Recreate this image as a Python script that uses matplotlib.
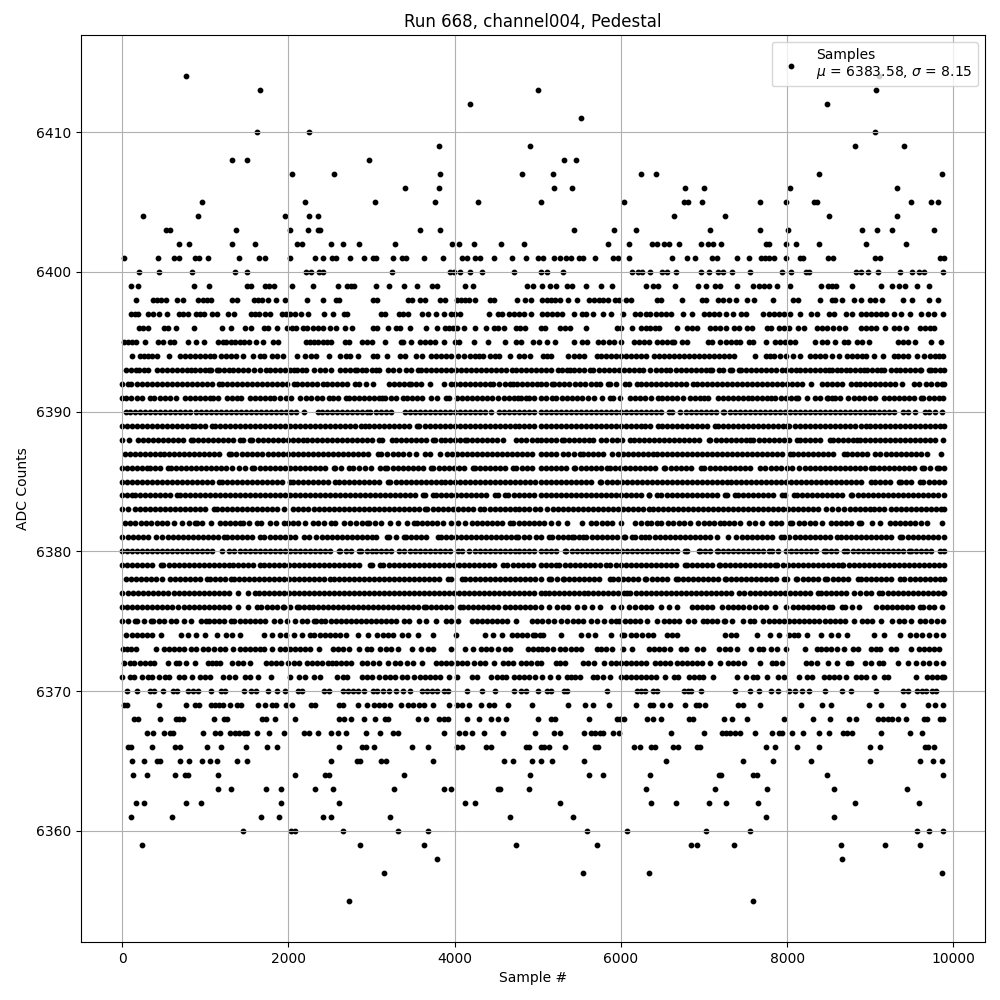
import matplotlib
matplotlib.use('Agg')
import matplotlib.pyplot as plt

# Sample numbers per ADC level (estimates)
adc_6414 = [771, 9104]
adc_6413 = [1663, 5000, 9068]
adc_6412 = [4181, 8478]
adc_6411 = [5514]
adc_6410 = [1626, 2253, 9056]
adc_6409 = [3807, 4904, 8815, 9406]
adc_6408 = [1325, 1506, 2964, 5321, 5454]
adc_6407 = [2048, 2554, 3819, 4807, 5189, 6237, 6418, 8381, 9863]
adc_6406 = [3398, 3807, 5201, 5406, 6767, 6996, 8032, 9321]
adc_6405 = [964, 2205, 3048, 3759, 4277, 5036, 6032, 6755, 6803, 6972, 7671, 7984, 8321, 8357, 9490, 9731, 9815]
adc_6404 = [253, 916, 1964, 2253, 2361, 6635, 7249, 8502, 9321]
adc_6403 = [530, 578, 1373, 2024, 2241, 2361, 2385, 3578, 3819, 5430, 5912, 6177, 7068, 7671, 8008, 8900, 9080, 9261, 9767]
adc_6402 = [687, 807, 1325, 1602, 2108, 2169, 2518, 2663, 2855, 3277, 3964, 4048, 4229, 4554, 4831, 5839, 6092, 6369, 6430, 6514, 6574, 6695, 6960, 7044, 7104, 7201, 7743, 7779, 7984, 8104, 8381, 8948, 9430]
adc_6401 = [24, 434, 626, 687, 880, 928, 1036, 1410, 1651, 1723, 2024, 2325, 2422, 2530, 2578, 2747, 2904, 3012, 3060, 3253, 3361, 3410, 3626, 3855, 4084, 4144, 4241, 4301, 4470, 4687, 4855, 5000, 5068, 5201, 5273, 5345, 5394, 5490, 5538, 5691, 5900, 5960, 6092, 6610, 6791, 6888, 7092, 7153, 7394, 7538, 7683, 7731, 7779, 7839, 7984, 8153, 8189, 8490, 8550, 9056, 9116, 9839, 9885]
adc_6400 = [205, 446, 843, 1361, 1506, 2217, 2277, 2373, 2422, 3241, 3940, 3988, 4060, 4181, 4325, 4711, 5036, 5116, 5309, 6129, 6201, 6249, 6345, 6490, 6550, 6659, 6960, 7056, 7165, 7225, 7333, 7550, 7936, 8044, 8225, 8261, 8827, 8888, 8972, 9092, 9357, 9502, 9586, 9647, 9875]
adc_6399 = [108, 193, 867, 1048, 1506, 1554, 1723, 1771, 1831, 2048, 2301, 2602, 2711, 2759, 2795, 3060, 3205, 3385, 3550, 3723, 3783, 4120, 4217, 4867, 4940, 5048, 5141, 5225, 5357, 5406, 5586, 5755, 5888, 6297, 6382, 6442, 6647, 6924, 7020, 7128, 7189, 7394, 7586, 7659, 7719, 7779, 7875, 8032, 8406, 8490, 8538, 8586, 8779, 9128, 9261, 9345, 9418, 9562, 9707]
adc_6398 = [169, 373, 422, 470, 530, 663, 735, 916, 976, 1024, 1072, 1325, 1386, 1590, 1639, 1687, 1759, 1855, 1964, 2229, 2422, 2578, 2614, 3012, 3072, 3434, 3482, 3578, 3638, 3819, 3880, 4024, 4072, 4120, 4169, 4241, 4422, 4470, 4747, 4843, 4916, 5056, 5116, 5165, 5213, 5273, 5369, 5466, 5622, 5671, 5731, 5779, 5839, 5924, 5972, 6056, 6116, 6430, 6478, 6731, 6972, 7020, 7165, 7225, 7297, 7382, 7514, 7598, 7827, 8068, 8128, 8394, 8538, 8574, 8655, 8803, 8888, 8996, 9056, 9140, 9394, 9502, 9707, 9815]
adc_6397 = [108, 157, 193, 313, 373, 446, 542, 687, 735, 795, 892, 940, 988, 1084, 1145, 1277, 1349, 1554, 1602, 1651, 1723, 1783, 1928, 1976, 2024, 2084, 2157, 2241, 2434, 2542, 2675, 2711, 3120, 3157, 3325, 3373, 3434, 3602, 3675, 3771, 3867, 3952, 4000, 4060, 4410, 4518, 4566, 4651, 4711, 4771, 4831, 4916, 5056, 5116, 5177, 5237, 5297, 5430, 5526, 5574, 5659, 5779, 5876, 6020, 6165, 6225, 6297, 6345, 6418, 6478, 6538, 6598, 6743, 6851, 6996, 7056, 7116, 7177, 7261, 7345, 7442, 7502, 7707, 7779, 7839, 7900, 7960, 8032, 8153, 8285, 8357, 8502, 8562, 8707, 8779, 8888, 8948, 9008, 9068, 9128, 9189, 9285, 9369, 9478, 9610, 9695, 9767, 9875]
adc_6396 = [205, 253, 313, 506, 554, 651, 867, 1205, 1313, 1482, 1554, 1711, 1759, 1867, 1988, 2048, 2096, 2181, 2229, 2301, 2361, 2422, 2506, 2578, 2687, 2771, 3024, 3072, 3193, 3289, 3337, 3458, 3651, 3783, 3880, 3928, 3976, 4024, 4108, 4241, 4373, 4470, 4518, 4590, 4735, 4783, 4843, 5036, 5092, 5273, 5333, 5382, 5574, 5948, 5996, 6129, 6237, 6297, 6345, 6406, 6454, 6671, 6791, 6851, 6912, 7068, 7128, 7189, 7261, 7357, 7418, 7514, 7574, 7755, 7803, 7900, 7960, 8020, 8128, 8201, 8357, 8418, 8478, 8550, 8622, 8695, 8888, 8948, 9008, 9068, 9177, 9285, 9345, 9430, 9598, 9659, 9719, 9767]
adc_6395 = [24, 72, 120, 169, 277, 434, 494, 578, 626, 795, 892, 988, 1157, 1217, 1253, 1313, 1361, 1422, 1470, 1530, 1614, 1699, 1819, 1880, 2217, 2265, 2313, 2361, 2422, 2470, 2518, 2687, 2735, 2880, 2940, 3000, 3157, 3349, 3373, 3470, 3578, 3638, 3699, 3759, 3867, 4000, 4048, 4229, 4398, 4602, 4735, 4795, 4940, 5012, 5116, 5213, 5430, 5526, 5598, 5719, 5779, 5851, 5912, 5996, 6153, 6213, 6273, 6333, 6430, 6490, 6550, 6610, 6635, 6731, 6791, 7044, 7092, 7189, 7261, 7321, 7382, 7430, 7538, 7586, 7743, 7851, 7912, 7972, 8032, 8092, 8333, 8418, 8478, 8574, 8683, 8731, 8839, 8900, 8984, 9333, 9394, 9454, 9538, 9731, 9851]
adc_6394 = [120, 217, 265, 313, 361, 422, 566, 699, 759, 819, 880, 940, 1000, 1060, 1108, 1193, 1253, 1313, 1373, 1458, 1578, 1663, 1711, 1807, 1867, 1940, 2108, 2205, 2277, 2337, 2494, 2627, 2699, 2747, 2843, 3012, 3072, 3181, 3337, 3398, 3530, 3602, 3711, 3771, 3831, 3892, 3952, 4036, 4108, 4181, 4241, 4289, 4337, 4422, 4482, 4530, 4663, 4771, 4831, 4904, 5068, 5116, 5165, 5369, 5430, 5490, 5550, 5707, 5755, 5815, 5876, 5936, 5996, 6056, 6116, 6177, 6237, 6297, 6394, 6454, 6514, 6574, 6635, 6695, 6755, 6815, 6875, 6936, 6996, 7056, 7116, 7177, 7237, 7297, 7357, 7610, 7743, 7791, 7839, 7912, 7984, 8068, 8153, 8273, 8333, 8394, 8454, 8538, 8622, 8719, 8779, 8839, 8900, 8948, 9044, 9153, 9285, 9333, 9394, 9454, 9562, 9647, 9719, 9779, 9827, 9880]
adc_6393 = [44, 104, 164, 204, 260, 316, 416, 480, 540, 600, 660, 720, 780, 824, 880, 940, 1000, 1044, 1072, 1136, 1164, 1220, 1280, 1340, 1400, 1460, 1512, 1592, 1664, 1732, 1776, 1840, 1900, 1960, 2020, 2064, 2104, 2160, 2208, 2312, 2380, 2440, 2512, 2624, 2680, 2740, 2800, 2824, 2884, 2936, 3000, 3060, 3088, 3200, 3260, 3330, 3420, 3480, 3560, 3600, 3660, 3720, 3780, 3840, 3900, 3960, 4020, 4080, 4140, 4200, 4260, 4320, 4380, 4440, 4500, 4560, 4620, 4690, 4740, 4800, 4860, 4920, 4980, 5040, 5100, 5160, 5249, 5289, 5357, 5382, 5440, 5500, 5560, 5631, 5663, 5731, 5799, 5860, 5920, 5980, 6040, 6100, 6160, 6220, 6265, 6353, 6420, 6480, 6546, 6594, 6660, 6720, 6780, 6840, 6900, 6960, 7020, 7068, 7096, 7177, 7229, 7317, 7337, 7418, 7446, 7500, 7560, 7620, 7680, 7740, 7800, 7860, 7940, 7980, 8040, 8100, 8160, 8220, 8280, 8340, 8400, 8460, 8502, 8534, 8600, 8650, 8703, 8760, 8820, 8880, 8924, 8956, 9020, 9080, 9132, 9165, 9253, 9305, 9360, 9420, 9480, 9540, 9598, 9614, 9707, 9727, 9780, 9840, 9884]
adc_6392 = [0, 70, 104, 180, 240, 300, 360, 420, 480, 540, 600, 660, 720, 780, 840, 900, 960, 1020, 1080, 1165, 1197, 1260, 1320, 1380, 1440, 1500, 1560, 1620, 1680, 1740, 1800, 1860, 1920, 1980, 2066, 2100, 2160, 2220, 2280, 2340, 2420, 2470, 2530, 2590, 2650, 2700, 2800, 2850, 2930, 3020, 3210, 3270, 3330, 3390, 3450, 3480, 3540, 3600, 3700, 3870, 3960, 4010, 4070, 4130, 4190, 4240, 4300, 4360, 4430, 4460, 4530, 4600, 4660, 4700, 4750, 4810, 4870, 4930, 4990, 5040, 5100, 5170, 5197, 5260, 5320, 5380, 5442, 5510, 5570, 5640, 5703, 5743, 5839, 5871, 5940, 6052, 6092, 6193, 6245, 6300, 6360, 6420, 6480, 6540, 6600, 6660, 6720, 6780, 6863, 6916, 6980, 7040, 7100, 7160, 7220, 7280, 7340, 7400, 7460, 7520, 7580, 7640, 7700, 7760, 7820, 7880, 7940, 8000, 8060, 8120, 8180, 8289, 8422, 8480, 8540, 8600, 8660, 8763, 8823, 8880, 8940, 9000, 9060, 9120, 9180, 9240, 9300, 9385, 9526, 9586, 9667, 9730, 9807, 9860, 9885]
adc_6391 = [0, 50, 112, 176, 240, 332, 384, 450, 520, 580, 644, 752, 820, 880, 940, 1000, 1056, 1088, 1156, 1264, 1320, 1380, 1436, 1544, 1600, 1660, 1720, 1780, 1832, 1904, 1970, 2032, 2144, 2212, 2276, 2340, 2400, 2484, 2532, 2600, 2696, 2728, 2790, 2850, 2910, 2970, 3030, 3090, 3124, 3164, 3230, 3300, 3384, 3424, 3490, 3550, 3610, 3716, 3792, 3896, 3936, 4024, 4084, 4150, 4210, 4270, 4330, 4390, 4444, 4524, 4590, 4650, 4710, 4764, 4804, 4864, 4896, 4960, 5040, 5100, 5169, 5221, 5290, 5350, 5410, 5470, 5530, 5600, 5671, 5771, 5867, 5908, 5984, 6112, 6173, 6225, 6290, 6362, 6442, 6500, 6560, 6620, 6680, 6747, 6827, 6890, 6956, 6996, 7048, 7165, 7230, 7290, 7350, 7410, 7470, 7526, 7578, 7640, 7700, 7760, 7807, 7851, 7920, 7980, 8040, 8100, 8133, 8241, 8333, 8400, 8474, 8494, 8542, 8574, 8640, 8735, 8803, 8860, 8920, 8990, 9052, 9165, 9230, 9290, 9350, 9410, 9470, 9530, 9607, 9639, 9700, 9760, 9820, 9880]
adc_6390 = [44, 100, 160, 220, 280, 340, 400, 460, 520, 580, 640, 700, 760, 820, 884, 952, 1010, 1070, 1130, 1190, 1250, 1310, 1370, 1430, 1490, 1550, 1610, 1670, 1730, 1790, 1850, 1910, 1970, 2030, 2090, 2184, 2352, 2410, 2470, 2530, 2590, 2650, 2710, 2770, 2830, 2890, 2944, 2984, 3050, 3110, 3170, 3236, 3404, 3460, 3520, 3580, 3640, 3700, 3760, 3820, 3880, 3940, 4000, 4060, 4120, 4180, 4240, 4300, 4360, 4440, 4528, 4590, 4650, 4710, 4770, 4830, 4890, 4950, 5040, 5100, 5160, 5220, 5280, 5340, 5400, 5460, 5520, 5580, 5640, 5700, 5760, 5820, 5880, 5940, 6000, 6060, 6120, 6180, 6240, 6300, 6360, 6420, 6480, 6575, 6614, 6715, 6780, 6840, 6900, 6960, 7020, 7080, 7140, 7225, 7245, 7310, 7370, 7430, 7490, 7550, 7610, 7670, 7730, 7790, 7850, 7910, 7970, 8030, 8090, 8150, 8210, 8270, 8330, 8390, 8450, 8510, 8570, 8630, 8690, 8750, 8810, 8870, 8930, 8990, 9050, 9110, 9170, 9230, 9290, 9398, 9458, 9534, 9655, 9707, 9779, 9867]
adc_6389 = [4, 60, 120, 180, 240, 300, 360, 420, 480, 540, 600, 660, 720, 780, 836, 872, 940, 1000, 1084, 1112, 1180, 1240, 1300, 1360, 1420, 1480, 1540, 1600, 1660, 1720, 1780, 1840, 1900, 1960, 2020, 2080, 2140, 2200, 2260, 2320, 2380, 2440, 2500, 2560, 2620, 2680, 2740, 2800, 2870, 2924, 2964, 3030, 3090, 3150, 3210, 3270, 3330, 3390, 3450, 3544, 3576, 3640, 3700, 3760, 3820, 3880, 3940, 4000, 4060, 4120, 4180, 4240, 4300, 4360, 4420, 4480, 4540, 4600, 4660, 4720, 4780, 4840, 4900, 4960, 5040, 5100, 5160, 5220, 5280, 5340, 5400, 5460, 5520, 5580, 5640, 5700, 5760, 5820, 5880, 5940, 6000, 6060, 6120, 6180, 6240, 6293, 6345, 6442, 6500, 6560, 6620, 6680, 6740, 6800, 6860, 6920, 6980, 7040, 7136, 7169, 7230, 7290, 7350, 7410, 7470, 7530, 7590, 7650, 7710, 7770, 7830, 7890, 7950, 8000, 8024, 8090, 8150, 8210, 8270, 8330, 8390, 8450, 8510, 8570, 8630, 8690, 8750, 8810, 8883, 8944, 9000, 9060, 9120, 9180, 9240, 9300, 9360, 9420, 9480, 9540, 9600, 9660, 9720, 9780, 9840, 9884]
adc_6388 = [0, 84, 192, 250, 310, 370, 430, 490, 550, 610, 670, 730, 824, 848, 910, 970, 1030, 1090, 1150, 1210, 1270, 1330, 1416, 1456, 1544, 1564, 1630, 1690, 1750, 1810, 1870, 1930, 1990, 2050, 2110, 2170, 2230, 2290, 2350, 2410, 2470, 2530, 2590, 2650, 2710, 2770, 2830, 2890, 2950, 3010, 3096, 3124, 3244, 3296, 3360, 3420, 3480, 3540, 3600, 3660, 3744, 3764, 3830, 3890, 3950, 4010, 4070, 4124, 4152, 4204, 4270, 4330, 4390, 4450, 4510, 4584, 4736, 4800, 4864, 4936, 5040, 4996, 5100, 5160, 5220, 5289, 5317, 5380, 5440, 5500, 5560, 5620, 5663, 5755, 5823, 5890, 5950, 6010, 6112, 6153, 6220, 6280, 6340, 6400, 6460, 6520, 6580, 6640, 6700, 6760, 6820, 6880, 6940, 7056, 7076, 7140, 7200, 7260, 7320, 7380, 7440, 7500, 7558, 7590, 7660, 7719, 7779, 7840, 7900, 7960, 8020, 8120, 8153, 8220, 8280, 8340, 8400, 8510, 8550, 8610, 8670, 8730, 8790, 8843, 8875, 8940, 9000, 9060, 9120, 9180, 9240, 9300, 9360, 9420, 9480, 9540, 9600, 9660, 9720, 9780, 9880]
adc_6387 = [32, 90, 150, 210, 270, 330, 390, 450, 510, 570, 630, 690, 750, 810, 870, 930, 990, 1050, 1110, 1170, 1284, 1312, 1376, 1440, 1500, 1560, 1620, 1680, 1752, 1816, 1880, 1940, 2000, 2060, 2120, 2180, 2240, 2300, 2360, 2420, 2480, 2540, 2600, 2660, 2720, 2780, 2840, 2900, 2960, 3084, 3112, 3192, 3260, 3320, 3380, 3456, 3536, 3644, 3704, 3824, 3912, 3970, 4030, 4090, 4150, 4210, 4270, 4330, 4390, 4450, 4510, 4570, 4630, 4690, 4750, 4810, 4870, 4930, 5040, 5100, 5160, 5220, 5309, 5369, 5430, 5510, 5538, 5600, 5660, 5720, 5780, 5892, 5960, 6020, 6080, 6140, 6200, 6260, 6320, 6380, 6440, 6500, 6560, 6620, 6680, 6740, 6800, 6860, 6920, 6980, 7040, 7100, 7160, 7220, 7280, 7340, 7400, 7460, 7520, 7580, 7640, 7700, 7760, 7820, 7880, 7940, 8028, 8064, 8130, 8190, 8250, 8310, 8370, 8430, 8490, 8550, 8683, 8715, 8780, 8840, 8900, 8960, 9052, 9112, 9185, 9250, 9310, 9370, 9430, 9490, 9550, 9610, 9679, 9847]
adc_6386 = [0, 60, 120, 180, 240, 304, 336, 400, 460, 552, 584, 650, 710, 770, 830, 890, 950, 1010, 1070, 1130, 1190, 1250, 1324, 1404, 1480, 1564, 1592, 1660, 1720, 1780, 1840, 1900, 1960, 2020, 2080, 2140, 2200, 2260, 2320, 2380, 2440, 2544, 2564, 2630, 2724, 2776, 2844, 2920, 2996, 3104, 3164, 3192, 3260, 3320, 3380, 3440, 3500, 3560, 3620, 3712, 3744, 3810, 3870, 3930, 3990, 4050, 4110, 4224, 4244, 4310, 4370, 4430, 4490, 4550, 4610, 4704, 4744, 4810, 4870, 4930, 5040, 5100, 5160, 5220, 5280, 5340, 5438, 5450, 5520, 5580, 5640, 5700, 5760, 5831, 5863, 5930, 5990, 6050, 6110, 6170, 6230, 6290, 6350, 6410, 6514, 6534, 6600, 6660, 6720, 6780, 6840, 6968, 7004, 7070, 7130, 7190, 7250, 7310, 7370, 7430, 7490, 7550, 7671, 7739, 7800, 7860, 7920, 7992, 8052, 8148, 8210, 8270, 8330, 8390, 8450, 8510, 8570, 8630, 8690, 8750, 8810, 8870, 8930, 9004, 9044, 9104, 9170, 9230, 9290, 9350, 9410, 9470, 9530, 9626, 9647, 9720, 9807, 9827, 9885]
adc_6385 = [0, 60, 120, 180, 240, 300, 360, 420, 480, 540, 600, 660, 720, 780, 840, 900, 960, 1020, 1080, 1164, 1196, 1260, 1320, 1380, 1440, 1500, 1560, 1620, 1680, 1740, 1800, 1860, 1920, 2024, 2056, 2120, 2180, 2240, 2300, 2360, 2420, 2480, 2564, 2604, 2670, 2730, 2790, 2850, 2910, 2970, 3030, 3090, 3204, 3224, 3290, 3350, 3410, 3470, 3530, 3590, 3650, 3710, 3770, 3830, 3890, 3950, 4010, 4070, 4130, 4190, 4250, 4310, 4370, 4430, 4490, 4550, 4610, 4670, 4730, 4790, 4850, 4910, 4970, 5040, 5100, 5160, 5220, 5280, 5340, 5400, 5460, 5520, 5580, 5640, 5750, 5763, 5830, 5890, 5950, 6010, 6070, 6130, 6190, 6250, 6310, 6370, 6430, 6490, 6550, 6610, 6670, 6730, 6790, 6850, 6910, 6970, 7030, 7090, 7150, 7210, 7270, 7330, 7390, 7450, 7510, 7570, 7630, 7690, 7750, 7810, 7870, 7930, 7990, 8050, 8110, 8170, 8230, 8290, 8350, 8410, 8470, 8530, 8590, 8650, 8710, 8770, 8830, 8890, 9012, 9052, 9120, 9180, 9240, 9345, 9365, 9430, 9490, 9598, 9639, 9700, 9760, 9820, 9885]
adc_6384 = [0, 60, 124, 152, 220, 280, 340, 400, 460, 520, 580, 664, 696, 760, 820, 880, 940, 1000, 1060, 1120, 1180, 1240, 1300, 1360, 1420, 1480, 1540, 1600, 1660, 1720, 1780, 1840, 1900, 1960, 2020, 2080, 2140, 2200, 2260, 2320, 2380, 2440, 2500, 2560, 2620, 2680, 2740, 2800, 2860, 2920, 2980, 3040, 3100, 3160, 3220, 3280, 3340, 3400, 3460, 3520, 3624, 3644, 3744, 3776, 3840, 3900, 3960, 4020, 4080, 4140, 4200, 4260, 4320, 4380, 4484, 4524, 4604, 4644, 4710, 4770, 4830, 4890, 4950, 5040, 5100, 5160, 5220, 5280, 5340, 5400, 5460, 5520, 5580, 5640, 5700, 5760, 5820, 5880, 5940, 6000, 6060, 6120, 6180, 6240, 6333, 6341, 6434, 6486, 6550, 6610, 6670, 6730, 6790, 6850, 6910, 6970, 7030, 7090, 7150, 7257, 7277, 7378, 7406, 7470, 7530, 7590, 7650, 7710, 7770, 7830, 7940, 7968, 8080, 8112, 8180, 8240, 8300, 8360, 8420, 8480, 8540, 8600, 8660, 8763, 8783, 8850, 8910, 8970, 9030, 9090, 9150, 9210, 9270, 9330, 9390, 9450, 9510, 9570, 9630, 9690, 9750, 9810, 9884]
adc_6383 = [0, 72, 152, 220, 280, 340, 400, 460, 520, 580, 640, 700, 760, 820, 880, 940, 1000, 1104, 1136, 1200, 1260, 1320, 1380, 1440, 1500, 1560, 1620, 1680, 1740, 1800, 1860, 1944, 2056, 2120, 2180, 2240, 2312, 2364, 2430, 2490, 2550, 2610, 2670, 2730, 2790, 2850, 2910, 2970, 3030, 3090, 3150, 3210, 3270, 3330, 3390, 3450, 3510, 3570, 3644, 3672, 3740, 3800, 3860, 3920, 3980, 4040, 4100, 4160, 4220, 4304, 4352, 4420, 4480, 4540, 4600, 4660, 4720, 4780, 4840, 4900, 4968, 5028, 5116, 5180, 5240, 5300, 5360, 5420, 5480, 5540, 5600, 5660, 5720, 5780, 5840, 5900, 5960, 6020, 6080, 6140, 6200, 6260, 6333, 6382, 6450, 6510, 6570, 6630, 6690, 6750, 6810, 6870, 6930, 6990, 7050, 7110, 7170, 7230, 7290, 7350, 7410, 7470, 7530, 7590, 7650, 7710, 7770, 7830, 7890, 7950, 8010, 8070, 8130, 8190, 8250, 8310, 8370, 8462, 8534, 8610, 8683, 8750, 8810, 8870, 8930, 8990, 9050, 9110, 9170, 9245, 9305, 9370, 9430, 9490, 9550, 9610, 9670, 9730, 9790, 9850, 9884]
adc_6382 = [32, 90, 152, 224, 290, 350, 420, 480, 544, 624, 724, 800, 876, 896, 960, 1064, 1172, 1240, 1300, 1360, 1416, 1452, 1530, 1624, 1672, 1776, 1848, 1944, 1996, 2060, 2120, 2204, 2292, 2352, 2430, 2512, 2564, 2664, 2744, 2810, 2880, 2944, 2964, 3040, 3112, 3224, 3324, 3424, 3512, 3544, 3610, 3670, 3730, 3790, 3860, 3952, 4044, 4120, 4204, 4264, 4330, 4390, 4450, 4510, 4570, 4664, 4704, 4770, 4830, 4890, 4950, 5020, 5080, 5160, 5249, 5357, 5530, 5639, 5703, 5770, 5830, 5890, 6004, 6173, 6240, 6313, 6361, 6430, 6486, 6566, 6630, 6700, 6760, 6827, 6928, 7000, 7060, 7120, 7197, 7245, 7300, 7365, 7438, 7538, 7618, 7699, 7807, 7870, 7930, 8032, 8060, 8140, 8201, 8270, 8340, 8422, 8522, 8590, 8650, 8710, 8763, 8863, 8883, 9024, 9116, 9237, 9293, 9360, 9420, 9480, 9540, 9610, 9687, 9859]
adc_6381 = [4, 70, 130, 190, 250, 310, 404, 484, 550, 610, 670, 730, 790, 850, 910, 970, 1030, 1090, 1150, 1224, 1256, 1320, 1380, 1440, 1500, 1560, 1664, 1712, 1780, 1840, 1900, 1960, 2020, 2080, 2184, 2252, 2336, 2400, 2460, 2520, 2580, 2640, 2700, 2760, 2820, 2880, 2940, 3000, 3060, 3184, 3216, 3300, 3396, 3416, 3480, 3540, 3600, 3660, 3804, 3836, 3900, 3960, 4020, 4080, 4140, 4200, 4260, 4320, 4380, 4440, 4500, 4560, 4620, 4680, 4744, 4764, 4830, 4890, 4984, 5040, 5137, 5177, 5240, 5300, 5360, 5410, 5430, 5500, 5542, 5582, 5650, 5710, 5770, 5830, 5890, 5950, 6032, 6052, 6133, 6173, 6240, 6293, 6341, 6410, 6470, 6530, 6590, 6650, 6710, 6770, 6830, 6890, 6950, 7010, 7070, 7157, 7285, 7390, 7460, 7520, 7580, 7640, 7700, 7760, 7820, 7920, 7960, 8020, 8090, 8150, 8210, 8270, 8330, 8390, 8450, 8510, 8602, 8643, 8710, 8770, 8830, 8890, 8950, 9010, 9070, 9130, 9190, 9250, 9357, 9385, 9450, 9510, 9570, 9630, 9690, 9750, 9810, 9884]
adc_6380 = [0, 60, 120, 180, 240, 300, 360, 420, 480, 540, 600, 660, 720, 780, 840, 900, 960, 1020, 1080, 1204, 1284, 1352, 1420, 1480, 1540, 1600, 1660, 1720, 1780, 1840, 1900, 1960, 2020, 2080, 2140, 2200, 2260, 2320, 2380, 2440, 2500, 2604, 2624, 2690, 2750, 2844, 2872, 2940, 3000, 3060, 3120, 3180, 3240, 3336, 3392, 3460, 3520, 3580, 3640, 3700, 3760, 3820, 3880, 3940, 4044, 4084, 4176, 4240, 4300, 4360, 4420, 4480, 4540, 4600, 4660, 4720, 4780, 4840, 4900, 4960, 5040, 5100, 5160, 5220, 5329, 5341, 5410, 5470, 5530, 5590, 5650, 5710, 5770, 5830, 5890, 5950, 6010, 6070, 6130, 6190, 6250, 6310, 6370, 6430, 6490, 6550, 6610, 6670, 6775, 6795, 6936, 6948, 7010, 7070, 7157, 7165, 7230, 7290, 7350, 7410, 7470, 7530, 7590, 7650, 7710, 7779, 7823, 7890, 7980, 8040, 8110, 8170, 8230, 8290, 8350, 8442, 8462, 8530, 8590, 8683, 8723, 8790, 8850, 8910, 8970, 9030, 9090, 9150, 9210, 9270, 9330, 9390, 9466, 9486, 9550, 9610, 9670, 9730, 9839, 9885]
adc_6379 = [0, 60, 120, 180, 240, 300, 360, 464, 496, 560, 620, 680, 740, 800, 860, 920, 980, 1040, 1100, 1160, 1220, 1280, 1340, 1400, 1460, 1520, 1580, 1664, 1704, 1770, 1830, 1890, 1950, 2010, 2070, 2130, 2190, 2250, 2310, 2370, 2430, 2490, 2550, 2610, 2670, 2730, 2790, 2850, 2984, 3004, 3104, 3144, 3210, 3270, 3330, 3390, 3450, 3510, 3570, 3630, 3690, 3750, 3810, 3870, 3930, 3990, 4050, 4110, 4170, 4230, 4290, 4350, 4410, 4470, 4584, 4632, 4700, 4760, 4820, 4880, 4940, 5040, 5100, 5160, 5221, 5261, 5330, 5390, 5450, 5510, 5570, 5630, 5690, 5750, 5823, 5871, 5940, 6000, 6060, 6120, 6180, 6240, 6300, 6360, 6420, 6480, 6540, 6600, 6660, 6775, 6795, 6860, 6920, 6980, 7040, 7100, 7177, 7189, 7250, 7310, 7370, 7430, 7490, 7550, 7610, 7670, 7730, 7790, 7859, 7880, 7950, 8010, 8070, 8130, 8190, 8250, 8310, 8370, 8430, 8490, 8550, 8610, 8663, 8675, 8740, 8800, 8860, 8920, 8980, 9040, 9100, 9160, 9220, 9280, 9340, 9400, 9460, 9520, 9580, 9640, 9700, 9760, 9820, 9885]
adc_6378 = [44, 110, 170, 230, 290, 350, 404, 484, 576, 640, 700, 760, 820, 880, 940, 1024, 1056, 1120, 1180, 1240, 1312, 1344, 1410, 1470, 1530, 1590, 1650, 1710, 1770, 1830, 1890, 1950, 2010, 2070, 2130, 2190, 2250, 2310, 2370, 2430, 2504, 2544, 2610, 2670, 2730, 2790, 2850, 2910, 2970, 3030, 3090, 3150, 3210, 3270, 3330, 3390, 3450, 3510, 3570, 3630, 3690, 3750, 3810, 3924, 3952, 4084, 4124, 4190, 4250, 4310, 4370, 4430, 4490, 4550, 4610, 4670, 4730, 4790, 4850, 4910, 4970, 5040, 5129, 5157, 5230, 5301, 5317, 5380, 5440, 5500, 5560, 5620, 5680, 5740, 5871, 5904, 5970, 6030, 6090, 6150, 6210, 6293, 6305, 6370, 6430, 6490, 6550, 6663, 6687, 6750, 6810, 6870, 6930, 6990, 7050, 7110, 7170, 7257, 7269, 7330, 7390, 7450, 7510, 7570, 7630, 7690, 7750, 7810, 7870, 7960, 8000, 8100, 8120, 8190, 8250, 8310, 8370, 8450, 8482, 8550, 8610, 8670, 8730, 8851, 8884, 8950, 9010, 9070, 9130, 9190, 9250, 9357, 9406, 9474, 9540, 9600, 9660, 9720, 9780, 9840, 9885]
adc_6377 = [4, 70, 130, 190, 250, 310, 370, 430, 496, 552, 624, 690, 750, 810, 870, 930, 990, 1050, 1110, 1170, 1230, 1290, 1392, 1512, 1604, 1644, 1710, 1770, 1830, 1890, 1950, 2010, 2070, 2130, 2190, 2250, 2310, 2370, 2430, 2490, 2550, 2610, 2670, 2730, 2790, 2850, 2910, 2970, 3030, 3090, 3150, 3210, 3270, 3330, 3390, 3450, 3510, 3570, 3630, 3690, 3750, 3810, 3870, 3930, 3990, 4050, 4110, 4170, 4230, 4290, 4350, 4410, 4470, 4530, 4590, 4650, 4710, 4770, 4830, 4890, 4950, 5040, 5088, 5129, 5190, 5250, 5310, 5370, 5430, 5490, 5550, 5610, 5670, 5730, 5790, 5850, 5910, 5970, 6032, 6072, 6112, 6180, 6240, 6300, 6360, 6420, 6480, 6540, 6600, 6660, 6720, 6780, 6840, 6900, 6960, 7020, 7080, 7140, 7200, 7260, 7320, 7426, 7486, 7550, 7610, 7670, 7730, 7790, 7850, 7910, 7970, 8030, 8090, 8150, 8210, 8270, 8370, 8402, 8470, 8530, 8590, 8650, 8710, 8803, 8875, 8944, 9010, 9104, 9145, 9210, 9270, 9330, 9390, 9450, 9510, 9570, 9630, 9690, 9750, 9810, 9870, 9885]
adc_6376 = [0, 60, 120, 180, 240, 300, 360, 420, 480, 540, 604, 672, 740, 800, 860, 920, 980, 1040, 1100, 1160, 1220, 1280, 1392, 1512, 1624, 1672, 1740, 1800, 1860, 1932, 1944, 2020, 2104, 2124, 2190, 2252, 2292, 2360, 2420, 2480, 2540, 2600, 2660, 2720, 2780, 2840, 2900, 2960, 3020, 3080, 3140, 3200, 3260, 3320, 3380, 3440, 3500, 3560, 3632, 3656, 3720, 3780, 3840, 3900, 3960, 4064, 4096, 4160, 4220, 4280, 4340, 4400, 4460, 4524, 4604, 4670, 4730, 4790, 4850, 4910, 4970, 5040, 5129, 5237, 5300, 5360, 5470, 5550, 5651, 5743, 5904, 6000, 6092, 6173, 6240, 6300, 6360, 6482, 6574, 6675, 6855, 6920, 6980, 7040, 7100, 7217, 7285, 7350, 7410, 7470, 7546, 7618, 7690, 7751, 7851, 7988, 8068, 8130, 8190, 8250, 8310, 8370, 8430, 8502, 8542, 8662, 8695, 8780, 8863, 9072, 9140, 9200, 9260, 9320, 9380, 9440, 9500, 9598, 9635, 9700, 9760, 9867]
adc_6375 = [4, 70, 152, 176, 260, 352, 368, 444, 504, 584, 652, 740, 824, 944, 1004, 1044, 1110, 1170, 1230, 1304, 1352, 1420, 1480, 1540, 1600, 1660, 1720, 1824, 1904, 1984, 2084, 2164, 2230, 2304, 2336, 2392, 2444, 2510, 2570, 2630, 2690, 2750, 2810, 2870, 2930, 2990, 3050, 3110, 3170, 3230, 3290, 3392, 3456, 3576, 3656, 3776, 3896, 3960, 4044, 4204, 4270, 4330, 4390, 4450, 4510, 4570, 4630, 4744, 4936, 4992, 5056, 5120, 5190, 5277, 5349, 5420, 5480, 5540, 5643, 5711, 5800, 5880, 5944, 5980, 6050, 6110, 6170, 6230, 6313, 6434, 6514, 6580, 6640, 6700, 6807, 6875, 6988, 7036, 7100, 7160, 7237, 7249, 7337, 7470, 7558, 7606, 7711, 7780, 7840, 7900, 7960, 8020, 8080, 8140, 8200, 8260, 8321, 8382, 8450, 8510, 8570, 8630, 8690, 8803, 8896, 8960, 9020, 9132, 9265, 9340, 9400, 9486, 9598, 9660, 9730, 9799, 9875]
adc_6374 = [44, 124, 176, 240, 300, 364, 472, 704, 790, 892, 992, 1144, 1244, 1324, 1424, 1712, 1800, 1896, 1976, 2072, 2160, 2256, 2312, 2380, 2440, 2500, 2560, 2624, 2696, 2832, 2952, 3064, 3136, 3200, 3260, 3364, 3444, 3564, 3744, 4012, 4364, 4456, 4564, 4684, 4750, 4810, 4870, 4944, 4964, 5028, 5060, 5285, 5518, 5600, 5691, 5880, 6012, 6040, 6120, 6180, 6253, 6321, 6386, 6554, 6620, 6675, 7249, 7320, 7389, 7639, 7791, 7900, 8020, 8080, 8128, 8233, 8410, 8530, 8610, 8723, 9044, 9165, 9357, 9474, 9550, 9626, 9707, 9790, 9880]
adc_6373 = [12, 60, 108, 169, 410, 506, 566, 626, 687, 747, 831, 892, 976, 1036, 1108, 1181, 1241, 1337, 1422, 1482, 1542, 1602, 1663, 1711, 1807, 1904, 1964, 2024, 2084, 2145, 2205, 2265, 2373, 2542, 2602, 2663, 2735, 2855, 2940, 2988, 3108, 3169, 3229, 3313, 3482, 3590, 3675, 3735, 3952, 4120, 4217, 4313, 4373, 4434, 4518, 4602, 4663, 4880, 4940, 5000, 5056, 5116, 5189, 5273, 5333, 5394, 5454, 5514, 5707, 5755, 5815, 5888, 6020, 6129, 6333, 6394, 6454, 6514, 6586, 6719, 6779, 6912, 6984, 7177, 7249, 7309, 7394, 7562, 7659, 7707, 7803, 7875, 7984, 8213, 8357, 8406, 8466, 8526, 8598, 8683, 8791, 8851, 9008, 9068, 9116, 9249, 9309, 9490, 9586, 9647, 9707, 9767, 9827]
adc_6372 = [24, 96, 145, 217, 277, 337, 386, 554, 651, 687, 771, 880, 1036, 1084, 1133, 1181, 1325, 1398, 1458, 1542, 1735, 1795, 1855, 1916, 2000, 2072, 2133, 2229, 2289, 2349, 2410, 2482, 2530, 2578, 2638, 2699, 2759, 2880, 2940, 3012, 3096, 3193, 3277, 3337, 3422, 3494, 3602, 3771, 3831, 3892, 3952, 4024, 4084, 4144, 4229, 4301, 4361, 4470, 4578, 4639, 4699, 4795, 4855, 4916, 4988, 5044, 5225, 5273, 5333, 5538, 5610, 5671, 5791, 5876, 5936, 5996, 6056, 6116, 6177, 6237, 6297, 6406, 6466, 6526, 6586, 6671, 6731, 6791, 6851, 6912, 6972, 7068, 7189, 7285, 7345, 7406, 7478, 7671, 7815, 7863, 7936, 8225, 8285, 8357, 8490, 8598, 8731, 8767, 8936, 9008, 9104, 9153, 9333, 9454, 9550, 9635, 9707, 9791, 9880]
adc_6371 = [0, 96, 145, 241, 313, 361, 446, 518, 566, 687, 747, 843, 940, 1000, 1060, 1217, 1289, 1361, 1482, 1542, 1639, 1787, 2024, 2133, 2205, 2313, 2385, 2590, 2663, 2711, 2880, 2940, 3000, 3096, 3157, 3217, 3277, 3361, 3422, 3506, 3578, 3638, 3699, 3759, 3819, 3928, 4024, 4205, 4265, 4434, 4506, 4566, 4614, 4711, 4771, 4831, 4892, 4964, 5056, 5141, 5249, 5357, 5394, 5442, 5502, 5659, 5707, 5779, 5863, 5996, 6056, 6116, 6177, 6237, 6297, 6357, 6418, 6526, 6635, 6683, 6815, 6875, 6936, 6984, 7104, 7394, 7502, 7586, 7635, 7755, 7888, 7960, 8141, 8237, 8297, 8442, 8502, 8562, 8622, 8707, 8827, 8888, 8948, 9044, 9165, 9213, 9550, 9683, 9743, 9803, 9863, 9882]
adc_6370 = [60, 181, 337, 386, 494, 614, 663, 795, 855, 916, 1072, 1193, 1241, 1470, 1554, 1614, 1759, 1867, 1964, 2120, 2169, 2434, 2494, 2663, 2723, 2783, 2843, 2904, 3012, 3072, 3133, 3205, 3289, 3373, 3458, 3602, 3663, 3723, 3783, 3867, 3916, 4144, 4325, 4482, 4711, 4795, 4855, 5000, 5116, 5153, 5321, 5357, 5827, 6189, 6237, 6285, 6382, 6430, 6755, 6803, 6839, 6960, 7369, 7550, 7659, 7803, 7888, 8020, 8092, 8177, 8261, 8454, 8659, 8767, 9068, 9394, 9454, 9562, 9622, 9671, 9743, 9791]
adc_6369 = [24, 60, 446, 771, 880, 928, 1072, 1120, 1169, 1217, 1301, 1386, 1434, 1639, 1723, 1807, 1855, 1976, 2048, 2277, 2325, 2614, 2663, 2843, 2940, 3036, 3096, 3145, 3217, 3349, 3434, 3494, 3566, 3626, 3735, 3928, 4024, 4084, 4169, 4313, 4410, 4470, 4639, 4928, 5369, 5562, 5659, 5851, 6177, 6345, 6382, 6490, 6586, 6767, 6900, 6936, 7008, 7406, 7466, 7671, 8165, 8418, 8526, 8984, 9128, 9394, 9695, 9779, 9875]
adc_6368 = [145, 193, 458, 651, 687, 735, 1108, 1229, 1265, 1687, 1735, 1843, 2084, 2614, 2675, 2759, 2904, 3048, 3157, 3193, 3554, 3651, 3807, 3867, 3916, 4144, 4289, 4434, 4518, 4614, 5000, 5165, 5213, 5622, 5948, 5984, 6032, 6309, 6382, 6478, 6815, 6863, 7237, 7333, 7514, 7960, 8309, 8514, 8743, 8827, 9092, 9153, 9213, 9261, 9333, 9430, 9647, 9683, 9839, 9880]
adc_6367 = [301, 373, 506, 578, 614, 976, 1120, 1181, 1301, 1361, 1410, 1470, 1506, 1627, 1771, 1952, 2193, 2253, 2361, 2518, 2602, 2699, 2928, 3108, 3253, 3313, 3867, 4048, 4120, 4205, 4349, 4578, 4964, 5201, 5273, 5550, 5635, 5683, 5743, 5779, 5900, 5972, 6598, 6996, 7213, 7261, 7309, 7369, 7430, 7610, 7815, 7900, 7936, 8056, 8189, 8381, 8502, 8671, 8719, 8779, 9128, 9478, 9622]
adc_6366 = [72, 108, 361, 639, 699, 1024, 1193, 1494, 1747, 1867, 2614, 2880, 2928, 3036, 3482, 3675, 4024, 4084, 4373, 4434, 4855, 4892, 5036, 5080, 5129, 5333, 5683, 5719, 6153, 6225, 6357, 6406, 6622, 6683, 6912, 6948, 7743, 7851, 8116, 8381, 8996, 9116, 9659, 9695, 9767]
adc_6365 = [120, 265, 422, 458, 699, 807, 964, 1060, 1145, 1386, 1506, 2518, 2831, 2867, 3120, 3169, 3735, 4590, 4699, 4928, 5036, 5177, 5550, 6538, 7466, 7827, 8285, 8996, 9598, 9755, 9863]
adc_6364 = [133, 301, 639, 759, 795, 1157, 2084, 2446, 2494, 3385, 4904, 5622, 5779, 6345, 7177, 7201, 7586, 7635, 8478, 9875]
adc_6363 = [1157, 1313, 1735, 1916, 2325, 2542, 3265, 3867, 3952, 4518, 4542, 4892, 6297, 7128, 7755, 8562, 9442]
adc_6362 = [169, 265, 771, 952, 1916, 2614, 4120, 4241, 5273, 6357, 6659, 7056, 7261, 7647, 8815, 9586]
adc_6361 = [108, 602, 1675, 1892, 2422, 2518, 3217, 4663, 5426, 7743, 8562]
adc_6360 = [1458, 2036, 2084, 2663, 3313, 3675, 5598, 6068, 7020, 7550, 9562, 9707, 9880]
adc_6359 = [241, 2867, 3626, 4735, 5707, 6839, 6912, 7357, 8647, 9177, 9598]
adc_6358 = [3783, 8655]
adc_6357 = [3145, 5538, 6333, 9863]
adc_6355 = [2735, 7586]

levels = [6414, 6413, 6412, 6411, 6410, 6409, 6408, 6407, 6406, 6405, 6404, 6403, 6402, 6401, 6400,
          6399, 6398, 6397, 6396, 6395, 6394, 6393, 6392, 6391, 6390, 6389, 6388, 6387, 6386, 6385,
          6384, 6383, 6382, 6381, 6380, 6379, 6378, 6377, 6376, 6375, 6374, 6373, 6372, 6371, 6370,
          6369, 6368, 6367, 6366, 6365, 6364, 6363, 6362, 6361, 6360, 6359, 6358, 6357, 6355]
rows = [adc_6414, adc_6413, adc_6412, adc_6411, adc_6410, adc_6409, adc_6408, adc_6407, adc_6406, adc_6405,
        adc_6404, adc_6403, adc_6402, adc_6401, adc_6400, adc_6399, adc_6398, adc_6397, adc_6396, adc_6395,
        adc_6394, adc_6393, adc_6392, adc_6391, adc_6390, adc_6389, adc_6388, adc_6387, adc_6386, adc_6385,
        adc_6384, adc_6383, adc_6382, adc_6381, adc_6380, adc_6379, adc_6378, adc_6377, adc_6376, adc_6375,
        adc_6374, adc_6373, adc_6372, adc_6371, adc_6370, adc_6369, adc_6368, adc_6367, adc_6366, adc_6365,
        adc_6364, adc_6363, adc_6362, adc_6361, adc_6360, adc_6359, adc_6358, adc_6357, adc_6355]

sample_no = []
adc_counts = []
for level, row in zip(levels, rows):
    sample_no.extend(row)
    adc_counts.extend([level] * len(row))

fig, ax = plt.subplots(figsize=(10, 10), dpi=100)
ax.scatter(sample_no, adc_counts, s=10, color='black',
           label='Samples\n$\\mu$ = 6383.58, $\\sigma$ = 8.15')
ax.set_title('Run 668, channel004, Pedestal')
ax.set_xlabel('Sample #')
ax.set_ylabel('ADC Counts')
ax.grid(True)
ax.legend(loc='upper right')
fig.subplots_adjust(left=0.081, right=0.985, top=0.965, bottom=0.058)
fig.savefig('out.png', dpi=100)
